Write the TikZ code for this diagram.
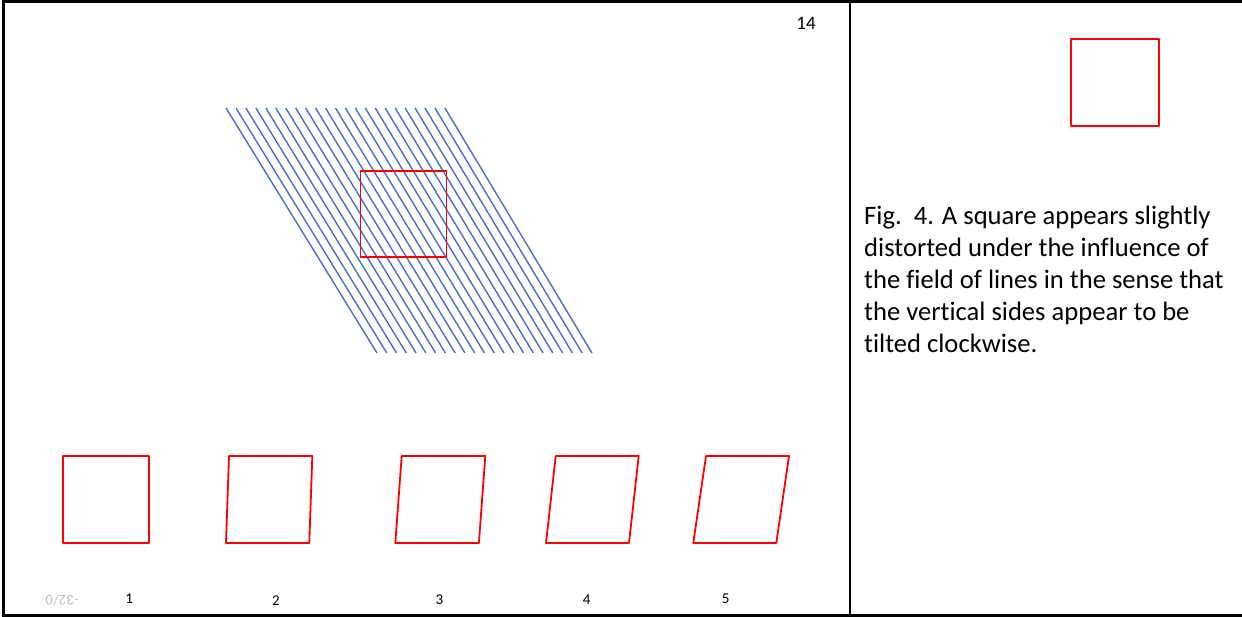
\documentclass[tikz,border=0pt]{standalone}
\usepackage{fontspec}
\setmainfont{Carlito}[Ligatures=NoCommon]
\usepackage{tikz}
\usetikzlibrary{positioning}
\definecolor{fieldblue}{RGB}{68,114,196}

\begin{document}
\begin{tikzpicture}[x=1pt, y=-1pt,
    sq/.style={draw=red, line width=1.8pt, line join=round},
    fieldline/.style={draw=fieldblue, line width=1.4pt},
    numlabel/.style={font=\fontsize{15}{18}\selectfont, inner sep=0pt}]
  \useasboundingbox (0,0) rectangle (1242,617);

  % Rahmen
  \draw[line width=3pt] (1242,1.5) -- (3.5,1.5) -- (3.5,615.5) -- (1242,615.5);
  \draw[line width=2pt] (850,1.5) -- (850,615.5);

  % Seitenzahl
  \node[font=\fontsize{19}{22}\selectfont, inner sep=0pt] (page) at (806,23) {14};

  % Linienfeld
  \foreach \i in {0,...,22}
    \draw[fieldline] (226+9.95*\i,108) -- (377+9.77*\i,353);

  % Quadrat im Feld
  \draw[sq] (360.5,171) rectangle (446.5,257);

  % Vergleichsquadrate
  \foreach \xa/\xb/\w in {62.7/62.7/86.6, 229/226/83.3, 401.7/395.3/83.6, 555.7/546/83, 706/693.3/83}
    \draw[sq] (\xa,456) -- (\xa+\w,456) -- (\xb+\w,543) -- (\xb,543) -- cycle;

  % Nummern
  \node[numlabel] (n1) at (129.3,599) {1};
  \node[numlabel] (n2) at (276,600.5) {2};
  \node[numlabel] (n3) at (439.3,599.3) {3};
  \node[numlabel] (n4) at (586.7,599.3) {4};
  \node[numlabel] (n5) at (725.7,598.3) {5};
  \node[numlabel, text=black!25, rotate=180] (code) at (62,600.7) {-32/0};

  % rechtes Feld
  \draw[sq] (1071,39.3) rectangle (1159.3,126.3);
  \node[anchor=north west, inner sep=0pt, align=left,
        font=\fontsize{26.6}{32.2}\selectfont] (caption) at (864,205.5)
    {Fig.\ \ 4. A square appears slightly\\
     distorted under the influence of\\
     the field of lines in the sense that\\
     the vertical sides appear to be\\
     tilted clockwise.};
\end{tikzpicture}
\end{document}
